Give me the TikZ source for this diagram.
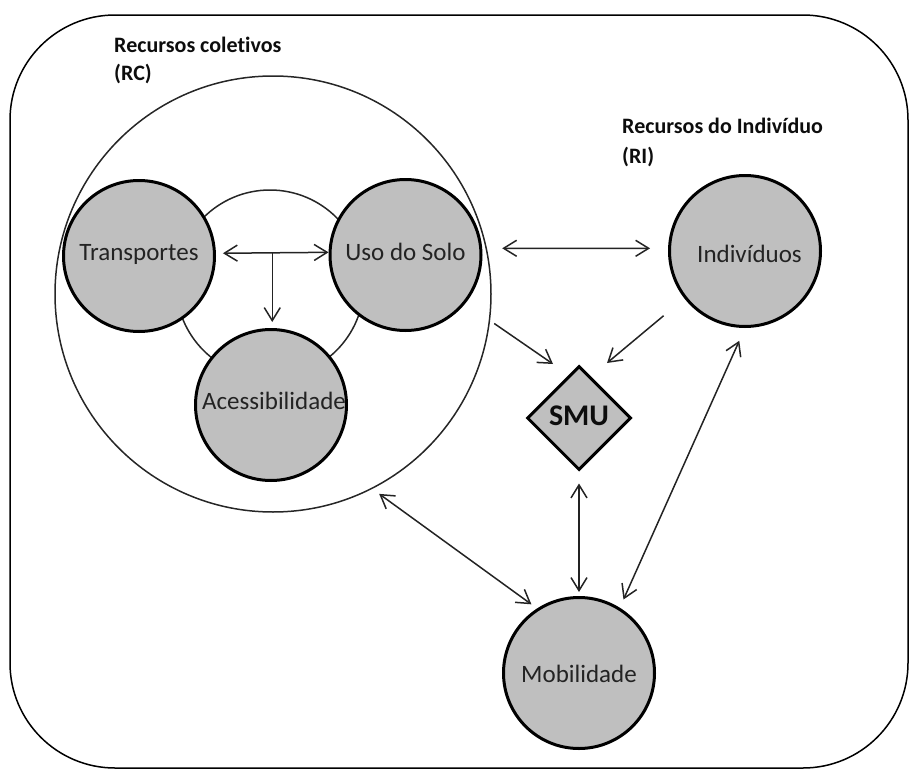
\documentclass[tikz,border=0pt]{standalone}
\usepackage{fontspec}
\setmainfont{Carlito}[Ligatures={NoCommon}]
\usetikzlibrary{shapes.geometric,arrows.meta,calc}
\definecolor{cgray}{RGB}{191,191,191}
\definecolor{ctext}{RGB}{35,35,35}
\definecolor{carrow}{RGB}{35,35,35}
\newcommand\cirlabel[3]{\raisebox{#2}[17pt][0pt]{\makebox[0pt]{\hspace*{#1}\hspace*{#1}#3}}}
\begin{document}
\begin{tikzpicture}[x=1pt,y=-1pt,
  res/.style={circle,draw=black,line width=3pt,fill=cgray,minimum size=151pt,inner sep=0pt,text=ctext,font=\fontsize{25}{30}\selectfont},
  ring/.style={circle,draw=black!85,line width=1.5pt,inner sep=0pt},
  arr/.style={draw=carrow,line width=1.5pt,-{Straight Barb[length=13pt,width=16pt]}},
  dbl/.style={draw=carrow,line width=1.5pt,{Straight Barb[length=13pt,width=16pt]}-{Straight Barb[length=13pt,width=16pt]}},
  ttl/.style={anchor=base west,font=\bfseries\fontsize{22}{26}\selectfont,text=black!95,inner sep=0pt}
]
\useasboundingbox (0,0) rectangle (911,771);
\draw[line width=1.5pt,rounded corners=105pt] (10,15) rectangle (908,768);
\node[ring,minimum size=436pt] (RC) at (273,294) {};
\node[ring,minimum size=188pt] (inner) at (270,284) {};
\node[res] (T) at (139,256) {\cirlabel{0pt}{4.5pt}{Transportes}};
\node[res] (U) at (405.5,255) {\cirlabel{0pt}{3.5pt}{Uso do Solo}};
\node[res] (A) at (271,405) {\cirlabel{3pt}{4.5pt}{Acessibilidade}};
\node[res] (I) at (745,251) {\cirlabel{4.5pt}{-2.5pt}{Indivíduos}};
\node[res] (Mob) at (579,673) {\cirlabel{0pt}{-0.5pt}{Mobilidade}};
\node[diamond,aspect=1,draw=black,line width=3pt,fill=cgray,minimum width=104pt,minimum height=104pt,inner sep=0pt,text=black!95,font=\bfseries\fontsize{30}{36}\selectfont] (SMU) at (579,418) {\cirlabel{0pt}{1.5pt}{SMU}};

\node[ttl] (rct) at (114,52) {Recursos coletivos};
\node[ttl] (rcs) at (114,80) {(RC)};
\node[ttl] (rit) at (622,133) {Recursos do Indivíduo};
\node[ttl] (ris) at (622,163) {(RI)};

\coordinate (m) at ($(T.2)!0.5!(U.178)$);
\coordinate (e1) at (553,364);
\coordinate (e2) at (607,363);
\draw[dbl,shorten <=7pt] (T.2) -- (U.178);
\draw[arr,shorten >=6pt] (m) -- (m |- A.north);
\draw[dbl,shorten <=20pt,shorten >=18pt] (U.5) -- (I.178);
\draw[arr,shorten <=5pt] (RC.-7) -- (e1);
\draw[arr,shorten <=27pt] (I.218) -- (e2);
\draw[dbl,shorten <=12pt,shorten >=4pt] (SMU.south) -- (Mob.north);
\draw[dbl,shorten <=14pt,shorten >=9pt] (I.south) -- (Mob.58);
\draw[dbl,shorten <=8.5pt,shorten >=7pt] (RC.-63.3) -- (Mob.123.9);
\end{tikzpicture}
\end{document}
